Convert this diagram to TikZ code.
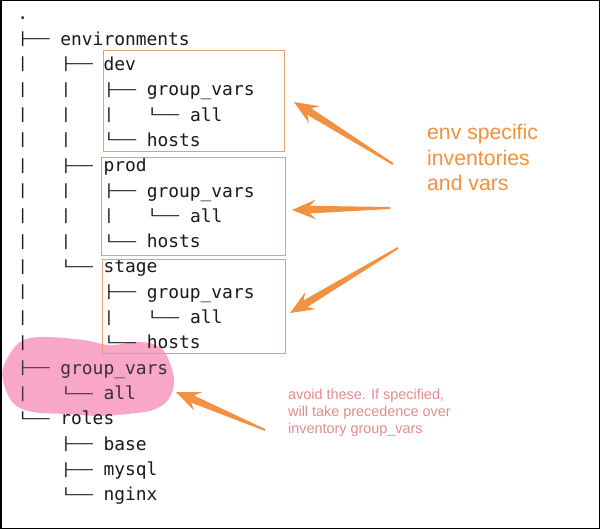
\documentclass[tikz,border=0pt]{standalone}
\usepackage{fontspec}
\setmainfont{Liberation Sans}
\newfontfamily\treemono{DejaVu Sans Mono}
\usepackage{graphicx}
\usetikzlibrary{calc}
\definecolor{treetext}{HTML}{1A1A1A}
\definecolor{blobtext}{HTML}{3A3035}
\definecolor{boxc}{HTML}{DCA27C}
\definecolor{arrowc}{HTML}{F19141}
\definecolor{notec}{HTML}{E48C91}
\definecolor{blobc}{HTML}{F8A8C6}
\tikzset{
  tok/.style={anchor=base west, inner sep=0pt, outer sep=0pt, font=\treemono\fontsize{17.9}{20}\selectfont, text=treetext},
  envbox/.style={draw=boxc, line width=1pt},
  bigtext/.style={anchor=base west, inner sep=0pt, font=\fontsize{21.2}{25.5}\selectfont, text=arrowc, align=left},
  notetext/.style={anchor=base west, inner sep=0pt, font=\fontsize{14.4}{16.7}\selectfont, text=notec, align=left},
}
% vertically shortened box-drawing characters (kept centred on the horizontal stroke)
\newcommand{\bx}[1]{\raisebox{1.6pt}{\scalebox{1}[0.7]{#1}}}
\newcommand{\tok}[5][]{\node[tok,#1] (#2) at ({17.3+#3*10.8},{19.7+#4*25.33}) {#5};}
\newcommand{\fatarrow}[2]{%
  \fill[arrowc] ($(#1)!1pt!90:(#2)$)
    -- ($($(#2)!18pt!(#1)$)!3.8pt!90:(#2)$)
    -- ($($(#2)!24pt!(#1)$)!10pt!90:(#2)$)
    -- (#2)
    -- ($($(#2)!24pt!(#1)$)!10pt!-90:(#2)$)
    -- ($($(#2)!18pt!(#1)$)!3.8pt!-90:(#2)$)
    -- ($(#1)!1pt!-90:(#2)$) -- cycle;}
\begin{document}
\begin{tikzpicture}[x=1pt,y=-1pt]
\useasboundingbox (0,0) rectangle (600,529);
\fill[white] (0,0) rectangle (600,529);
% pink blob
\fill[blobc] plot[smooth cycle, tension=0.6] coordinates {(5,363) (20,342) (43,337) (83,340) (110,345) (140,342) (160,347) (170,363) (174,383) (168,400) (153,410) (127,414) (100,416) (67,414) (33,412) (13,403) (3,380)};
% tree
\tok{t0}{0}{0}{.}
\tok{t1}{0}{1}{\bx{├──} environments}
\tok{t2a}{0}{2}{\bx{│}}\tok{t2b}{4}{2}{\bx{├──} dev}
\tok{t3a}{0}{3}{\bx{│}}\tok{t3b}{4}{3}{\bx{│}}\tok{t3c}{8}{3}{\bx{├──} group\_vars}
\tok{t4a}{0}{4}{\bx{│}}\tok{t4b}{4}{4}{\bx{│}}\tok{t4c}{8}{4}{\bx{│}}\tok{t4d}{12}{4}{\bx{└──} all}
\tok{t5a}{0}{5}{\bx{│}}\tok{t5b}{4}{5}{\bx{│}}\tok{t5c}{8}{5}{\bx{└──} hosts}
\tok{t6a}{0}{6}{\bx{│}}\tok{t6b}{4}{6}{\bx{├──} prod}
\tok{t7a}{0}{7}{\bx{│}}\tok{t7b}{4}{7}{\bx{│}}\tok{t7c}{8}{7}{\bx{├──} group\_vars}
\tok{t8a}{0}{8}{\bx{│}}\tok{t8b}{4}{8}{\bx{│}}\tok{t8c}{8}{8}{\bx{│}}\tok{t8d}{12}{8}{\bx{└──} all}
\tok{t9a}{0}{9}{\bx{│}}\tok{t9b}{4}{9}{\bx{│}}\tok{t9c}{8}{9}{\bx{└──} hosts}
\tok{t10a}{0}{10}{\bx{│}}\tok{t10b}{4}{10}{\bx{└──} stage}
\tok{t11a}{0}{11}{\bx{│}}\tok{t11c}{8}{11}{\bx{├──} group\_vars}
\tok{t12a}{0}{12}{\bx{│}}\tok{t12c}{8}{12}{\bx{│}}\tok{t12d}{12}{12}{\bx{└──} all}
\tok{t13a}{0}{13}{\bx{│}}\tok{t13c}{8}{13}{\bx{└──} hosts}
\tok[text=blobtext]{t14}{0}{14}{\bx{├──} group\_vars}
\tok[text=blobtext]{t15a}{0}{15}{\bx{│}}\tok[text=blobtext]{t15b}{4}{15}{\bx{└──} all}
\tok{t16}{0}{16}{\bx{└──} roles}
\tok{t17}{4}{17}{\bx{├──} base}
\tok{t18}{4}{18}{\bx{├──} mysql}
\tok{t19}{4}{19}{\bx{└──} nginx}
% environment boxes
\draw[envbox] (103,51) rectangle (284,152);
\draw[envbox] (101,158) rectangle (285,256);
\draw[envbox] (102,260) rectangle (285,354);
% labels
\node[bigtext] (envlabel) at (427,191) {env specific\\inventories\\and vars};
\node[notetext] (notelabel) at (288,433) {avoid these. If specified,\\will take precedence over\\inventory group\_vars};
% arrows
\coordinate (a1t) at (393,164); \coordinate (a1h) at (294,102);
\coordinate (a2t) at (390,208); \coordinate (a2h) at (292,210);
\coordinate (a3t) at (398,248); \coordinate (a3h) at (290,313);
\coordinate (a4t) at (265,430); \coordinate (a4h) at (176,392);
\fatarrow{a1t}{a1h}
\fatarrow{a2t}{a2h}
\fatarrow{a3t}{a3h}
\fatarrow{a4t}{a4h}
% frame
\draw[black, line width=1.5pt] (0.75,0.75) rectangle (599.25,528.25);
\end{tikzpicture}
\end{document}
